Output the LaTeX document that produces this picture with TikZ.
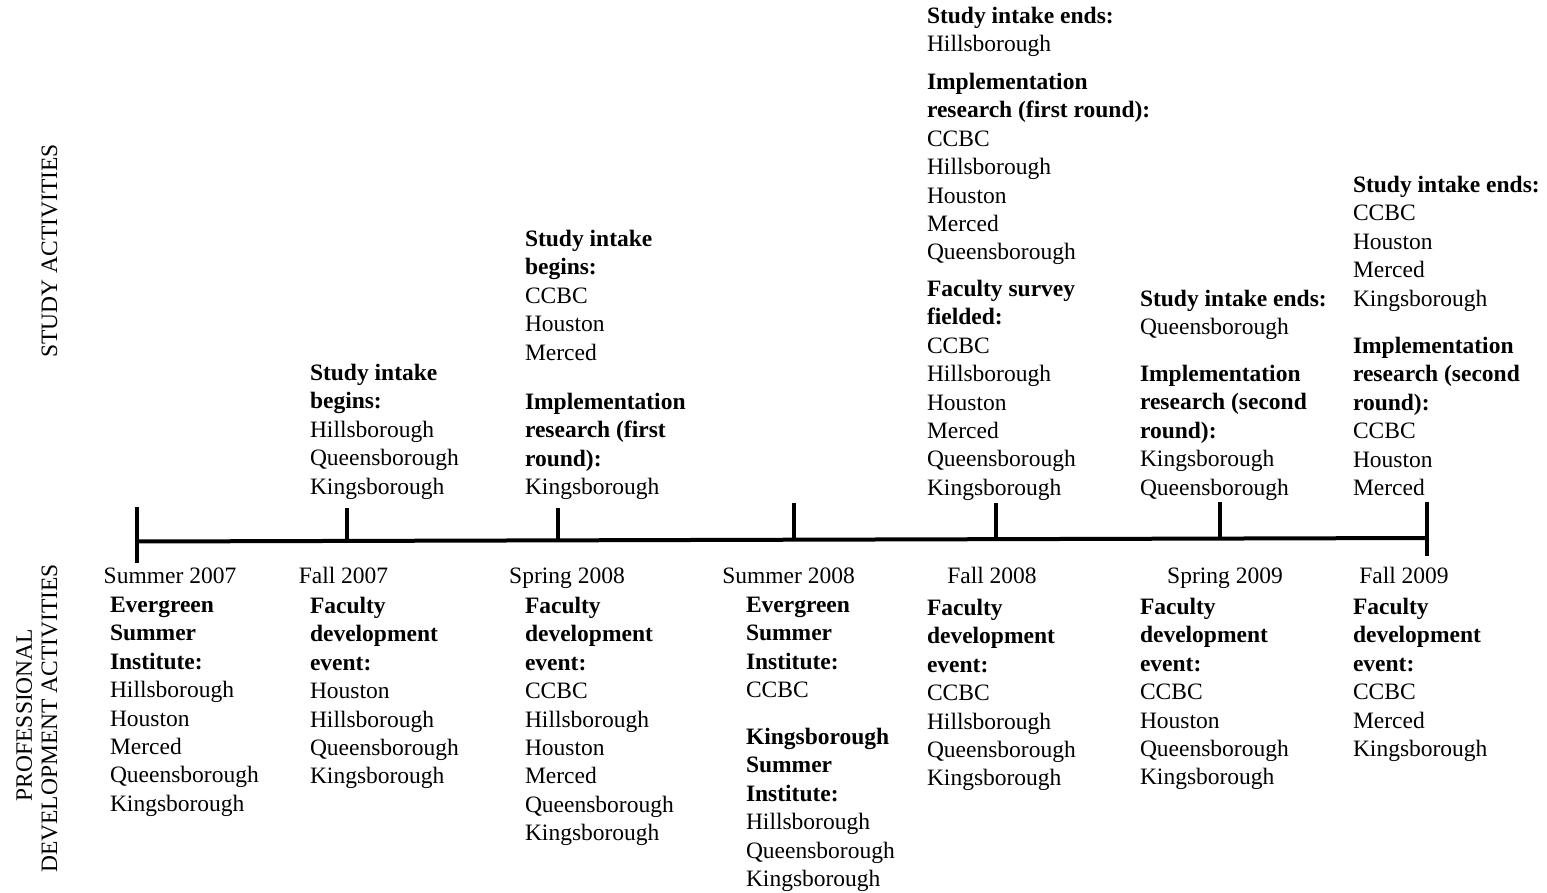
\documentclass[tikz,border=0pt]{standalone}
\usepackage{fontspec}
\setmainfont{Liberation Serif}
\newcommand\txtsize{\fontsize{11.75pt}{14.2pt}\selectfont}
\begin{document}
\begin{tikzpicture}[x=0.5pt,y=-0.5pt,
  blk/.style={anchor=north west, inner sep=0pt, outer sep=0pt, align=left,
              font=\txtsize, yshift=7.4pt, execute at begin node=\strut},
  datelbl/.style={anchor=base, inner sep=0pt, font=\txtsize},
  sidelbl/.style={anchor=base, inner sep=0pt, rotate=90, font=\txtsize},
  axisline/.style={line width=2pt},
]
\fill[white] (0,0) rectangle (1547,893);
\useasboundingbox (0,0) rectangle (1547,893);

% ---------- side labels ----------
\node[sidelbl] (sa) at (57,251) {STUDY ACTIVITIES};
\node[sidelbl] (pd1) at (32,715) {PROFESSIONAL};
\node[sidelbl] (pd2) at (57,718.5) {DEVELOPMENT ACTIVITIES};

% ---------- timeline ----------
\coordinate (L0) at (137,541.5);
\coordinate (L1) at (1427,538);
\draw[axisline] (L0) -- (L1);
\coordinate (k1a) at (137,507);  \coordinate (k1b) at (137,563);
\coordinate (k2a) at (347,508);  \coordinate (k2b) at (347,541.5);
\coordinate (k3a) at (558,508);  \coordinate (k3b) at (558,541);
\coordinate (k4a) at (794,503);  \coordinate (k4b) at (794,540);
\coordinate (k5a) at (996,503);  \coordinate (k5b) at (996,539.5);
\coordinate (k6a) at (1220,502); \coordinate (k6b) at (1220,538.5);
\coordinate (k7a) at (1427,502); \coordinate (k7b) at (1427,556);
\foreach \k in {1,...,7}{\draw[axisline] (k\k a) -- (k\k b);}

% ---------- dates ----------
\node[datelbl] (d1) at (170,583) {Summer 2007};
\node[datelbl] (d2) at (343.5,583) {Fall 2007};
\node[datelbl] (d3) at (567,583) {Spring 2008};
\node[datelbl] (d4) at (788.5,583) {Summer 2008};
\node[datelbl] (d5) at (992,583) {Fall 2008};
\node[datelbl] (d6) at (1225,583) {Spring 2009};
\node[datelbl] (d7) at (1404,583) {Fall 2009};

% ---------- study activities (top) ----------
\node[blk] (t1) at (310,379) {\textbf{Study intake}\\\textbf{begins:}\\Hillsborough\\Queensborough\\Kingsborough};

\node[blk] (t2a) at (525,245) {\textbf{Study intake}\\\textbf{begins:}\\CCBC\\Houston\\Merced};
\node[blk] (t2b) at (525,408) {\textbf{Implementation}\\\textbf{research (first}\\\textbf{round):}\\Kingsborough};

\node[blk] (t3a) at (927,22) {\textbf{Study intake ends:}\\Hillsborough};
\node[blk] (t3b) at (927,88) {\textbf{Implementation}\\\textbf{research (first round):}\\CCBC\\Hillsborough\\Houston\\Merced\\Queensborough};
\node[blk] (t3c) at (927,295) {\textbf{Faculty survey}\\\textbf{fielded:}\\CCBC\\Hillsborough\\Houston\\Merced\\Queensborough\\Kingsborough};

\node[blk] (t4a) at (1140,305) {\textbf{Study intake ends:}\\Queensborough};
\node[blk] (t4b) at (1140,380) {\textbf{Implementation}\\\textbf{research (second}\\\textbf{round):}\\Kingsborough\\Queensborough};

\node[blk] (t5a) at (1353,191) {\textbf{Study intake ends:}\\CCBC\\Houston\\Merced\\Kingsborough};
\node[blk] (t5b) at (1353,352) {\textbf{Implementation}\\\textbf{research (second}\\\textbf{round):}\\CCBC\\Houston\\Merced};

% ---------- professional development activities (bottom) ----------
\node[blk] (b1) at (110,612) {\textbf{Evergreen}\\\textbf{Summer}\\\textbf{Institute:}\\Hillsborough\\Houston\\Merced\\Queensborough\\Kingsborough};
\node[blk] (b2) at (310,612) {\textbf{Faculty}\\\textbf{development}\\\textbf{event:}\\Houston\\Hillsborough\\Queensborough\\Kingsborough};
\node[blk] (b3) at (525,612) {\textbf{Faculty}\\\textbf{development}\\\textbf{event:}\\CCBC\\Hillsborough\\Houston\\Merced\\Queensborough\\Kingsborough};
\node[blk] (b4a) at (746,612) {\textbf{Evergreen}\\\textbf{Summer}\\\textbf{Institute:}\\CCBC};
\node[blk] (b4b) at (746,743) {\textbf{Kingsborough}\\\textbf{Summer}\\\textbf{Institute:}\\Hillsborough\\Queensborough\\Kingsborough};
\node[blk] (b5) at (927,614) {\textbf{Faculty}\\\textbf{development}\\\textbf{event:}\\CCBC\\Hillsborough\\Queensborough\\Kingsborough};
\node[blk] (b6) at (1140,613) {\textbf{Faculty}\\\textbf{development}\\\textbf{event:}\\CCBC\\Houston\\Queensborough\\Kingsborough};
\node[blk] (b7) at (1353,613) {\textbf{Faculty}\\\textbf{development}\\\textbf{event:}\\CCBC\\Merced\\Kingsborough};
\end{tikzpicture}
\end{document}
